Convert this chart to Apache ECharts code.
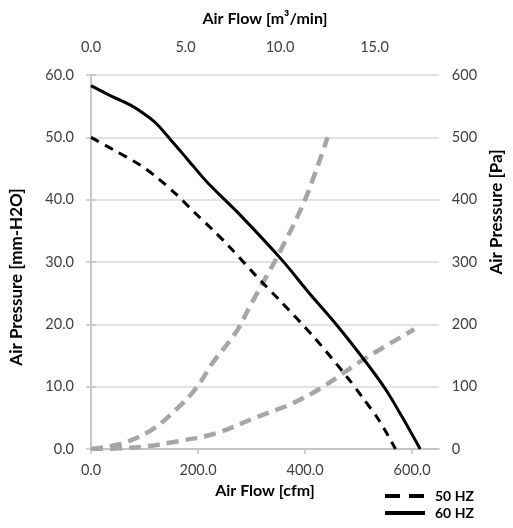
<!DOCTYPE html>
<html>
<head>
<meta charset="utf-8">
<script src="https://cdn.jsdelivr.net/npm/echarts@6/dist/echarts.min.js"></script>
<style>
html,body{margin:0;padding:0;background:#fff;}
#chart{width:513px;height:528px;}
</style>
</head>
<body>
<div id="chart"></div>
<script>
// Fan curves (Air Flow in cfm, Air Pressure in mm-H2O)
const hz60Flow = [0, 36, 73, 97, 121, 148, 180, 218, 278, 357, 406, 461, 515, 551, 581, 615];
const hz60Pres = [58.3, 56.7, 55.2, 53.9, 52.3, 49.7, 46.5, 42.7, 37.6, 30.3, 25.2, 19.7, 13.8, 9.5, 5.2, 0];
const hz50Flow = [0, 42, 91, 124, 160, 194, 227, 258, 318, 351, 418, 478, 508, 539, 569];
const hz50Pres = [50.0, 48.0, 45.6, 43.5, 40.8, 37.9, 35.2, 32.5, 26.9, 24.0, 17.8, 11.6, 8.2, 4.5, 0];
// System resistance curves (Air Flow in cfm, Air Pressure in Pa)
const sysAFlow = [0, 58, 112, 155, 197, 227, 270, 300, 352, 400, 442];
const sysAPres = [0, 9, 30, 60, 98, 138, 186, 234, 315, 400, 500];
const sysBFlow = [0, 51, 100, 160, 233, 312, 376, 430, 508, 604];
const sysBPres = [0, 1, 4, 12, 25, 52, 73, 98, 143, 192];
// Axes
const cfmMax = 650;
const cfmPerM3min = 35.3147;
const legendNames = ['50 HZ', '60 HZ'];

const pair = (xs, ys) => xs.map((x, i) => [x, ys[i]]);

const font = 'Lato, "Liberation Sans", sans-serif';
const axisGray = '#c3c3c3';
const labelStyle = { color: '#404040', fontSize: 14.5, fontFamily: font };
const nameStyle = { color: '#000', fontSize: 16, fontWeight: 'bold', fontFamily: font };
const vNameStyle = { color: '#000', fontSize: 17, fontWeight: 'bold', fontFamily: font };

const chart = echarts.init(document.getElementById('chart'));
chart.setOption({
  animation: false,
  backgroundColor: '#fff',
  grid: { left: 90, right: 65, top: 75, bottom: 79, containLabel: false },
  legend: {
    data: [
      { name: legendNames[0], lineStyle: { type: [15, 9], width: 4 } },
      { name: legendNames[1], lineStyle: { width: 4 } }
    ],
    orient: 'vertical',
    left: 383,
    top: 489,
    padding: 0,
    itemWidth: 40,
    itemHeight: 14,
    itemGap: 3,
    itemStyle: { opacity: 0 },
    textStyle: { color: '#000', fontSize: 14, fontWeight: 'bold', fontFamily: font, padding: [0, 0, 0, 5] }
  },
  xAxis: [
    {
      type: 'value', position: 'bottom', min: 0, max: cfmMax, interval: 200,
      name: 'Air Flow [cfm]', nameLocation: 'middle', nameGap: 34, nameTextStyle: nameStyle,
      axisLine: { show: true, lineStyle: { color: axisGray, width: 1.5 } },
      axisTick: { show: true, length: 5, lineStyle: { color: axisGray, width: 1.5 } },
      axisLabel: Object.assign({ margin: 14, showMaxLabel: false, formatter: v => v.toFixed(1) }, labelStyle),
      splitLine: { show: false }
    },
    {
      type: 'value', position: 'top', min: 0, max: cfmMax / cfmPerM3min, interval: 5,
      name: 'Air Flow [m³/min]', nameLocation: 'middle', nameGap: 48, nameTextStyle: nameStyle,
      axisLine: { show: true, lineStyle: { color: axisGray, width: 1.5 } },
      axisTick: { show: false },
      axisLabel: Object.assign({ margin: 20, showMaxLabel: false, formatter: v => v.toFixed(1) }, labelStyle),
      splitLine: { show: false }
    }
  ],
  yAxis: [
    {
      type: 'value', position: 'left', min: 0, max: 60, interval: 10,
      name: 'Air Pressure [mm-H2O]', nameLocation: 'middle', nameGap: 66, nameRotate: 90,
      nameTextStyle: Object.assign({ padding: [0, 30, 0, 0] }, vNameStyle),
      axisLine: { show: true, lineStyle: { color: axisGray, width: 1.5 } },
      axisTick: { show: true, length: 5, lineStyle: { color: axisGray, width: 1.5 } },
      axisLabel: Object.assign({ margin: 17, formatter: v => v.toFixed(1) }, labelStyle),
      splitLine: { show: true, lineStyle: { color: '#d9d9d9', width: 1.5 } }
    },
    {
      type: 'value', position: 'right', min: 0, max: 600, interval: 100,
      name: 'Air Pressure [Pa]', nameLocation: 'middle', nameGap: 46, nameRotate: 90,
      nameTextStyle: Object.assign({ padding: [0, 0, 0, 100] }, vNameStyle),
      axisLine: { show: true, lineStyle: { color: axisGray, width: 1.5 } },
      axisTick: { show: true, length: 5, lineStyle: { color: axisGray, width: 1.5 } },
      axisLabel: Object.assign({ margin: 13, formatter: v => String(v) }, labelStyle),
      splitLine: { show: false }
    }
  ],
  series: [
    {
      name: 'System A', type: 'line', xAxisIndex: 0, yAxisIndex: 1,
      data: pair(sysAFlow, sysAPres), smooth: 0.35, showSymbol: false, symbol: 'none',
      lineStyle: { color: '#a6a6a6', width: 4.5, type: [12, 7] }, z: 1
    },
    {
      name: 'System B', type: 'line', xAxisIndex: 0, yAxisIndex: 1,
      data: pair(sysBFlow, sysBPres), smooth: 0.35, showSymbol: false, symbol: 'none',
      lineStyle: { color: '#a6a6a6', width: 4.5, type: [12, 7] }, z: 1
    },
    {
      name: legendNames[0], type: 'line', xAxisIndex: 0, yAxisIndex: 0,
      data: pair(hz50Flow, hz50Pres), smooth: 0.3, showSymbol: false, symbol: 'none',
      itemStyle: { color: '#000' },
      lineStyle: { color: '#000', width: 3, type: [9, 7] }, z: 3
    },
    {
      name: legendNames[1], type: 'line', xAxisIndex: 0, yAxisIndex: 0,
      data: pair(hz60Flow, hz60Pres), smooth: 0.3, showSymbol: false, symbol: 'none',
      itemStyle: { color: '#000' },
      lineStyle: { color: '#000', width: 3 }, z: 3
    }
  ]
});
</script>
</body>
</html>
